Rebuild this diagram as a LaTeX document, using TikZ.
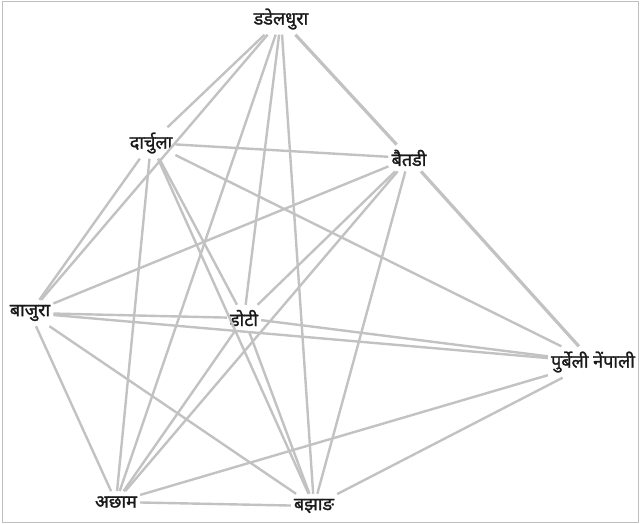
\documentclass[tikz,border=0pt]{standalone}
\usepackage{fontspec}
\newfontfamily\deva[Script=Devanagari,FakeBold=1.4]{Noto Sans}
\begin{document}
\begin{tikzpicture}[x=1pt,y=-1pt,
  lbl/.style={font=\deva\fontsize{18}{20}\selectfont, text=black!90, inner xsep=3pt, inner ysep=5pt},
  lnk/.style={draw=black!24, line width=2.4pt},
  thk/.style={lnk, line width=3.2pt}]
\useasboundingbox (0,0) rectangle (640,524);
\draw[black!25, line width=1pt] (2,2) rectangle (638,522);
\node[lbl] (DD) at (281,19) {डडेलधुरा};
\node[lbl] (DA) at (151,143) {दार्चुला};
\node[lbl] (BT) at (409,158) {बैतडी};
\node[lbl] (BJ) at (30,313) {बाजुरा};
\node[lbl] (DT) at (244,318) {डोटी};
\node[lbl] (PN) at (593,362) {पुर्बेली नेंपाली};
\node[lbl] (AC) at (116,502) {अछाम};
\node[lbl] (BZ) at (314,506) {बझाङ};
\foreach \a/\b in {DD/DA,DD/BJ,DD/AC,DD/DT,DD/BZ,
  DA/BT,DA/PN,DA/BJ,DA/AC,DA/DT,DA/BZ,
  BT/BJ,BT/DT,BT/AC,BT/BZ,
  BJ/DT,BJ/PN,BJ/AC,BJ/BZ,
  DT/PN,DT/AC,DT/BZ,
  PN/AC,PN/BZ,AC/BZ}
  \draw[lnk] (\a) -- (\b);
\draw[thk] (DD) -- (BT);
\draw[thk] (BT) -- (PN);
\end{tikzpicture}
\end{document}
